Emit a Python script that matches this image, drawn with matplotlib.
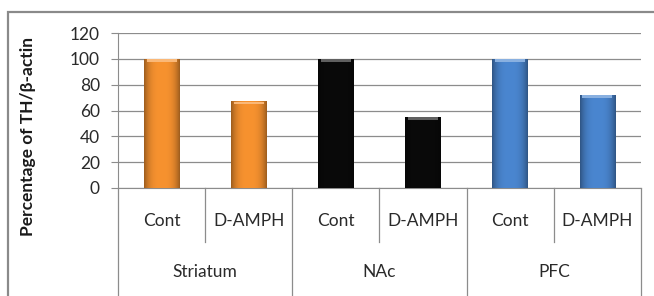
import matplotlib
matplotlib.use("Agg")
import matplotlib.pyplot as plt
import numpy as np
from matplotlib.colors import to_rgb
from matplotlib.patches import Rectangle
from matplotlib.lines import Line2D

groups = ["Striatum", "NAc", "PFC"]
conditions = ["Cont", "D-AMPH"]
values = [100, 67, 100, 55, 100, 72]
group_colors = ["#F7922F", "#0A0A0A", "#4A86D0"]

plt.rcParams['font.family'] = ['Lato', 'DejaVu Sans']

fig = plt.figure(figsize=(6.54, 2.96), dpi=100)
ax = fig.add_axes([118 / 654, 1 - 188 / 296, 523 / 654, 155 / 296])

x = np.arange(len(values))
colors = [c for c in group_colors for _ in conditions]
bars = ax.bar(x, values, width=0.41, color=colors, zorder=2)

# cheap bevel look: horizontal shading inside each bar
ax.set_xlim(-0.5, len(values) - 0.5)
ax.set_ylim(0, 120)
for b, c in zip(bars, colors):
    base = np.array(to_rgb(c))
    t = np.linspace(-1, 1, 40)
    shade = 1 - 0.35 * np.abs(t) ** 3
    img = np.clip(base[None, :] * shade[:, None], 0, 1)[None, :, :]
    x0, y0 = b.get_x(), b.get_y()
    w, h = b.get_width(), b.get_height()
    im = ax.imshow(img, extent=[x0, x0 + w, y0, y0 + h], aspect='auto', zorder=3)
    im.set_clip_path(b)
    top = np.clip(base + (1 - base) * 0.35, 0, 1)
    ax.add_patch(Rectangle((x0 + w * 0.08, y0 + h - 2.2), w * 0.84, 2.0,
                           facecolor=top, edgecolor='none', zorder=4))
    b.set_facecolor('none')

ax.set_yticks(np.arange(0, 121, 20))
ax.yaxis.grid(True, color='#8c8c8c', linewidth=0.9)
ax.set_axisbelow(True)
ax.tick_params(axis='y', length=5, color='#8c8c8c', labelsize=12.5, pad=8,
               labelcolor='#2a2a2a')
ax.set_xticks([])
for s in ['top', 'right']:
    ax.spines[s].set_visible(False)
ax.spines['left'].set_color('#8c8c8c')
ax.spines['bottom'].set_color('#8c8c8c')

ax.set_ylabel("Percentage of TH/β-actin", fontsize=12.5, fontweight='bold',
              color='#1a1a1a')
ax.yaxis.set_label_coords(-0.157, 0.33)

# two-level category axis
tr = ax.get_xaxis_transform()
for i, v in enumerate(values):
    ax.text(i, -0.21, conditions[i % 2], transform=tr, ha='center', va='center',
            fontsize=12.5, color='#2a2a2a')
for i in range(1, len(values)):
    y_end = -0.70 if i % 2 == 0 else -0.35
    ax.add_line(Line2D([i - 0.5, i - 0.5], [0, y_end], transform=tr,
                       color='#8c8c8c', linewidth=0.9, clip_on=False))
for y_end, xp in [(-0.70, -0.5), (-0.70, len(values) - 0.5)]:
    ax.add_line(Line2D([xp, xp], [0, y_end], transform=tr,
                       color='#8c8c8c', linewidth=0.9, clip_on=False))
for g, name in enumerate(groups):
    ax.text(2 * g + 0.5, -0.545, name, transform=tr, ha='center', va='center',
            fontsize=12.5, color='#2a2a2a')

# outer chart frame
fig.add_artist(Rectangle((8 / 654, -0.1), 1.1, 1 - 12 / 296 + 0.1,
                         transform=fig.transFigure, facecolor='none',
                         edgecolor='#8a8a8a', linewidth=1.6))

fig.savefig("out.png", dpi=100)
